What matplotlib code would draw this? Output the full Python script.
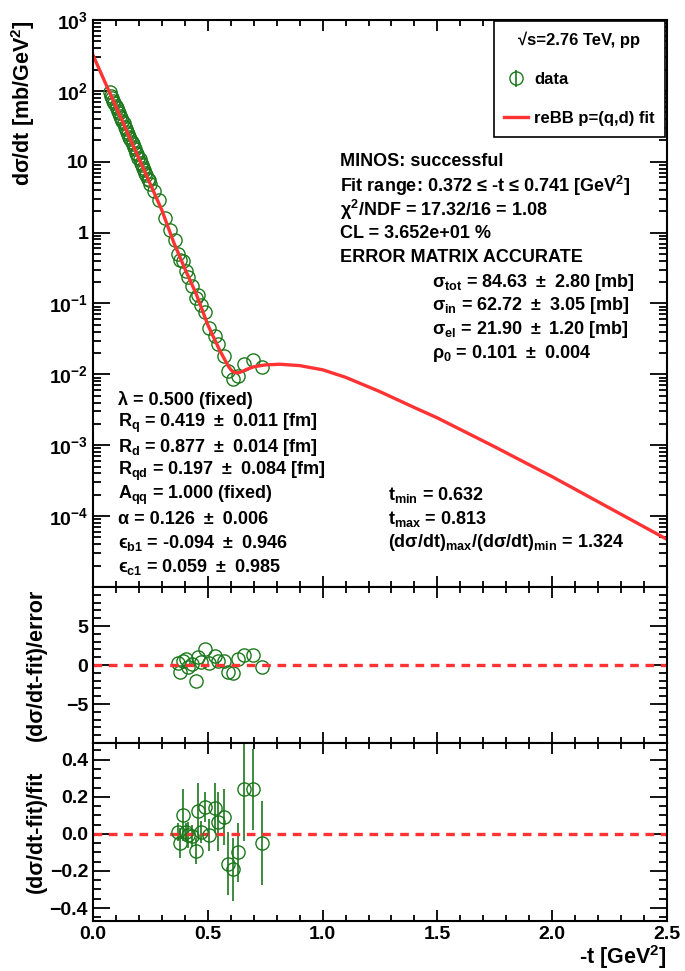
import numpy as np
import matplotlib
matplotlib.use('Agg')
import matplotlib.pyplot as plt
from matplotlib.ticker import MultipleLocator, FixedLocator, LogLocator, NullFormatter, FormatStrFormatter

plt.rcParams['font.family'] = ['Liberation Sans', 'DejaVu Sans']
plt.rcParams['font.weight'] = 'bold'
plt.rcParams['axes.labelweight'] = 'bold'
plt.rcParams['mathtext.fontset'] = 'custom'
plt.rcParams['mathtext.rm'] = 'Liberation Sans:bold'
plt.rcParams['mathtext.it'] = 'Liberation Sans:bold'
plt.rcParams['mathtext.bf'] = 'Liberation Sans:bold'
plt.rcParams['mathtext.default'] = 'rm'

# ---- data ----
t_low = [0.073, 0.078, 0.083, 0.088, 0.093, 0.098, 0.103, 0.108, 0.113, 0.118,
         0.123, 0.128, 0.133, 0.138, 0.143, 0.148, 0.153, 0.158, 0.163, 0.168,
         0.173, 0.178, 0.183, 0.188, 0.193, 0.198, 0.203, 0.208, 0.213, 0.218,
         0.223, 0.228, 0.233, 0.238, 0.243, 0.249, 0.267, 0.286, 0.315, 0.337, 0.359]
dsdt_low = [96.0, 85.0, 80.5, 72.0, 68.0, 61.0, 57.5, 51.5, 48.5, 43.5,
            41.0, 37.0, 34.8, 31.0, 29.4, 26.2, 24.8, 22.2, 21.0, 18.7,
            17.8, 15.9, 15.0, 13.4, 12.7, 11.3, 10.8, 9.6, 9.1, 8.1,
            7.7, 6.9, 6.5, 5.8, 5.5, 4.8, 3.9, 2.9, 1.6, 1.1, 0.78]

t_fit = [0.372, 0.380, 0.390, 0.405, 0.414, 0.430, 0.449, 0.458, 0.470, 0.486,
         0.505, 0.530, 0.545, 0.571, 0.589, 0.608, 0.632, 0.656, 0.699, 0.736]
dsdt_fit = [0.505, 0.413, 0.404, 0.286, 0.235, 0.174, 0.120, 0.131, 0.095, 0.0756,
            0.0458, 0.0352, 0.0264, 0.0181, 0.0112, 0.0087, 0.0095, 0.0141, 0.0160, 0.0128]
pull = [0.3, -0.86, 0.55, 0.73, -0.2, 0.13, -2.1, 1.07, 0.43, 2.0,
        0.3, 1.15, 0.55, 0.47, -0.86, -1.07, 0.73, 1.28, 1.28, -0.2]
rel_diff = [0.01, -0.05, 0.10, 0.01, -0.005, -0.01, -0.09, 0.125, 0.01, 0.145,
            -0.005, 0.137, 0.065, 0.092, -0.16, -0.19, -0.10, 0.24, 0.24, -0.05]
rel_err = [0.05, 0.08, 0.14, 0.05, 0.07, 0.06, 0.07, 0.15, 0.06, 0.08,
           0.085, 0.135, 0.16, 0.15, 0.17, 0.17, 0.16, 0.28, 0.22, 0.225]

curve_t = [0.0, 0.04, 0.1, 0.15, 0.2, 0.25, 0.3, 0.35, 0.40, 0.45, 0.50, 0.55, 0.57,
           0.58, 0.59, 0.60, 0.61, 0.62, 0.63, 0.64, 0.655, 0.67, 0.70, 0.75, 0.813,
           0.9, 1.0, 1.1, 1.25, 1.4, 1.5, 1.75, 2.0, 2.25, 2.5]
curve_v = [320, 163, 59.6, 25.7, 11.1, 4.8, 2.07, 0.75, 0.31, 0.135, 0.050, 0.0225, 0.0170,
           0.0148, 0.0130, 0.0117, 0.0109, 0.0106, 0.0105, 0.0107, 0.0112, 0.0118, 0.0128,
           0.0136, 0.0139, 0.0133, 0.0116, 0.0091, 0.0057, 0.0034, 0.00243, 0.00095,
           0.00036, 0.00013, 4.7e-5]

ytick_vals = [1e-4, 1e-3, 1e-2, 1e-1, 1, 10, 1e2, 1e3]
ytick_labels = ['10$^{-4}$', '10$^{-3}$', '10$^{-2}$', '10$^{-1}$', '1', '10', '10$^{2}$', '10$^{3}$']

green = '#1c781c'
red = '#ff3333'
W, H = 685, 971

fig = plt.figure(figsize=(6.85, 9.71), dpi=100)
L, R = 93, 667
def box(top, bot):
    return [L / W, 1 - bot / H, (R - L) / W, (bot - top) / H]

ax1 = fig.add_axes(box(20, 587))
ax2 = fig.add_axes(box(587, 743))
ax3 = fig.add_axes(box(743, 921))

mk = dict(marker='o', mfc='none', mec=green, ms=9.5, mew=1.0, ls='none')
dash = (0, (2.6, 2.0))

ax1.plot(t_low, dsdt_low, **mk)
ax1.plot(t_fit, dsdt_fit, **mk)
line, = ax1.plot(curve_t, curve_v, color=red, lw=2.4)
ax1.set_yscale('log')
ax1.set_ylim(1e-5, 1e3)
ax1.yaxis.set_major_locator(FixedLocator(ytick_vals))
ax1.set_yticklabels(ytick_labels)
ax1.yaxis.set_minor_locator(LogLocator(base=10, subs=np.arange(2, 10)))
ax1.yaxis.set_minor_formatter(NullFormatter())
ax1.set_ylabel('d\u03c3/dt [mb/GeV$^{2}$]', fontsize=15.5, loc='top')
ax1.yaxis.set_label_coords(-0.098, 1.0)

ax2.plot(t_fit, pull, **mk)
ax2.axhline(0, color=red, lw=2.4, ls=dash)
ax2.set_ylim(-10, 10)
ax2.yaxis.set_major_locator(FixedLocator([-5, 0, 5]))
ax2.yaxis.set_minor_locator(MultipleLocator(1))
ax2.set_ylabel('(d\u03c3/dt-fit)/error', fontsize=15.5)
ax2.yaxis.set_label_coords(-0.08, 0.5)

eb = ax3.errorbar(t_fit, rel_diff, yerr=rel_err, ecolor=green, elinewidth=1.2, capsize=0, **mk)
ax3.axhline(0, color=red, lw=2.4, ls=dash)
ax3.set_ylim(-0.47, 0.49)
ax3.yaxis.set_major_locator(MultipleLocator(0.2))
ax3.yaxis.set_minor_locator(MultipleLocator(0.05))
ax3.set_ylabel('(d\u03c3/dt-fit)/fit', fontsize=15.5)
ax3.yaxis.set_label_coords(-0.08, 0.5)
ax3.set_xlabel('-t [GeV$^{2}$]', fontsize=15.5, loc='right')
ax3.xaxis.set_label_coords(1.0, -0.125)

for ax in (ax1, ax2, ax3):
    ax.set_xlim(0, 2.5)
    ax.xaxis.set_major_locator(MultipleLocator(0.5))
    ax.xaxis.set_minor_locator(MultipleLocator(0.1))
    ax.tick_params(which='both', direction='in', top=True, right=True, labelsize=14, width=1.3)
    ax.tick_params(axis='y', which='major', length=12)
    ax.tick_params(axis='y', which='minor', length=6)
    ax.tick_params(axis='x', which='major', length=8)
    ax.tick_params(axis='x', which='minor', length=4)
    for s in ax.spines.values():
        s.set_linewidth(1.5)
for ax in (ax1, ax2):
    ax.tick_params(labelbottom=False)
ax3.xaxis.set_major_formatter(FormatStrFormatter('%.1f'))

leg = ax1.legend([eb, line], ['data', 'reBB p=(q,d) fit'], title='\u221as=2.76 TeV, pp',
                 loc='upper right', bbox_to_anchor=(0.9965, 0.998), borderaxespad=0,
                 fontsize=12, title_fontsize=12, fancybox=False, edgecolor='black',
                 framealpha=1, labelspacing=1.45, handlelength=1.45, handletextpad=0.35,
                 borderpad=0.62, alignment='center')
leg.get_frame().set_linewidth(1.2)
leg.get_title().set_fontweight('bold')

def txt(x, y, s):
    fig.text(x / W, 1 - y / H, s, fontsize=13, va='center', ha='left')

pm = '\u2002\u00b1\u2002'

right_block = ['MINOS: successful',
               'Fit range: 0.372 \u2264 -t \u2264 0.741 [GeV$^{2}$]',
               '\u03c7$^{2}$/NDF = 17.32/16 = 1.08',
               'CL = 3.652e+01 %',
               'ERROR MATRIX ACCURATE']
for i, s in enumerate(right_block):
    txt(340, 162 + 23.8 * i, s)

sig_block = ['\u03c3$_{tot}$ = 84.63' + pm + '2.80 [mb]',
             '\u03c3$_{in}$ = 62.72' + pm + '3.05 [mb]',
             '\u03c3$_{el}$ = 21.90' + pm + '1.20 [mb]',
             '\u03c1$_{0}$ = 0.101' + pm + '0.004']
for i, s in enumerate(sig_block):
    txt(432, 282 + 23.8 * i, s)

par_block = ['\u03bb = 0.500 (fixed)',
             'R$_{q}$ = 0.419' + pm + '0.011 [fm]',
             'R$_{d}$ = 0.877' + pm + '0.014 [fm]',
             'R$_{qd}$ = 0.197' + pm + '0.084 [fm]',
             'A$_{qq}$ = 1.000 (fixed)',
             '\u03b1 = 0.126' + pm + '0.006',
             '\u03f5$_{b1}$ = -0.094' + pm + '0.946',
             '\u03f5$_{c1}$ = 0.059' + pm + '0.985']
for i, s in enumerate(par_block):
    txt(118, 400 + 23.8 * i, s)

t_block = ['t$_{min}$ = 0.632',
           't$_{max}$ = 0.813',
           '(d\u03c3/dt)$_{max}$/(d\u03c3/dt)$_{min}$ = 1.324']
for i, s in enumerate(t_block):
    txt(388, 495 + 23.8 * i, s)

fig.savefig('out.png', dpi=100)
